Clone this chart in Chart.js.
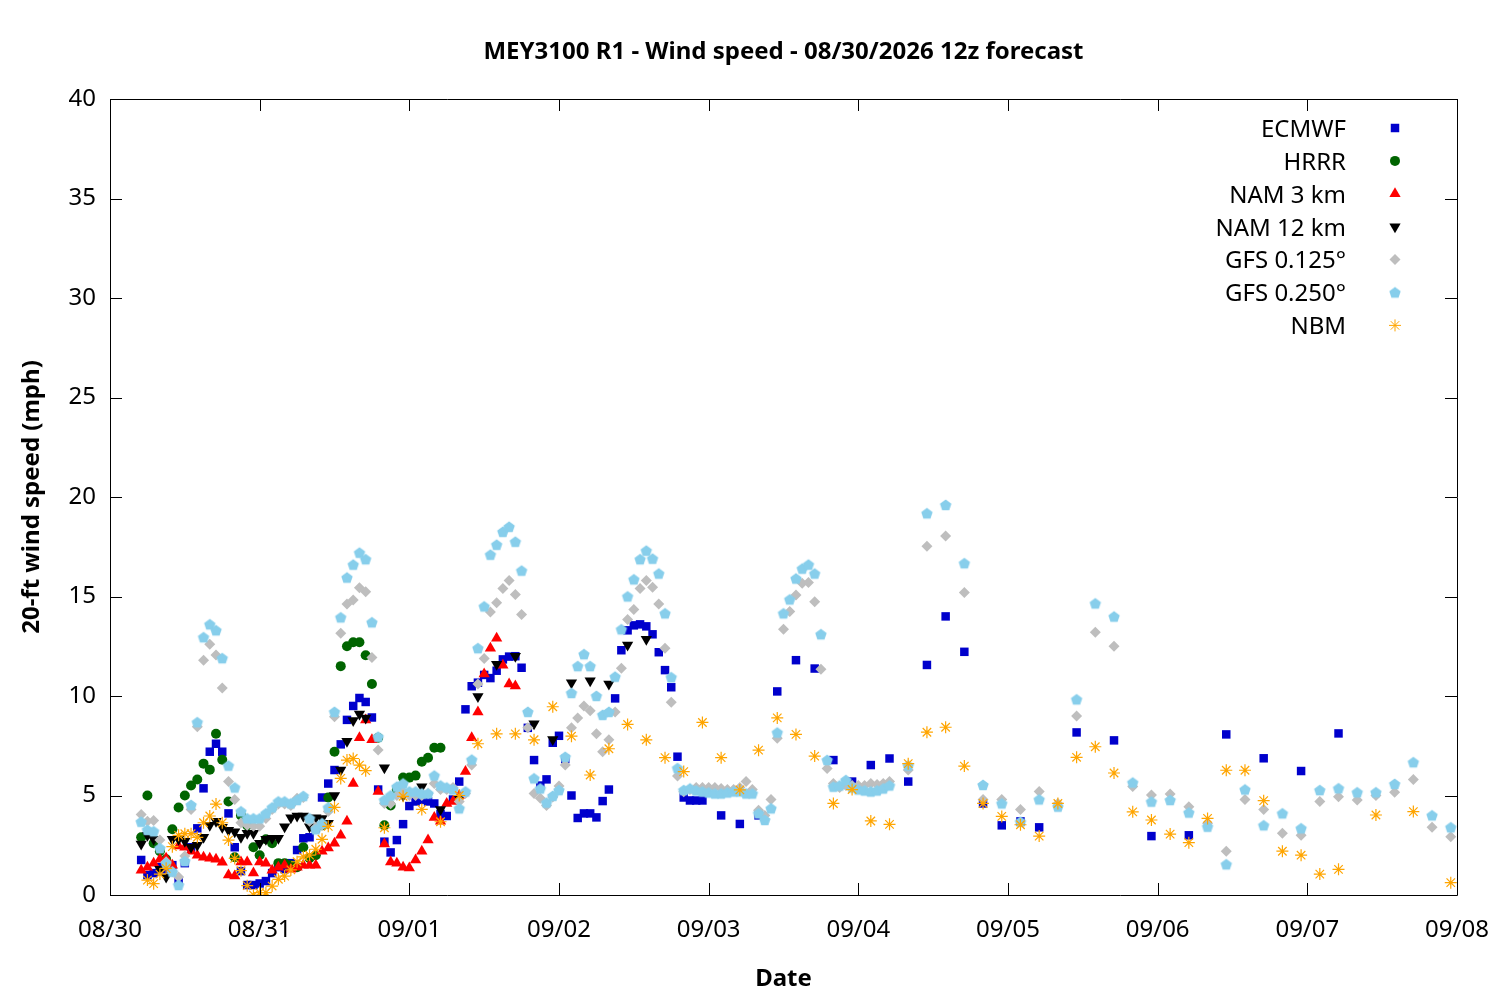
<!DOCTYPE html>
<html>
<head>
<meta charset="utf-8">
<title>MEY3100 R1 - Wind speed</title>
<script src="https://cdn.jsdelivr.net/npm/chart.js@4.4.1/dist/chart.umd.min.js"></script>
<style>
    html, body { margin: 0; padding: 0; background: #fff; }
    #wrap { width: 1500px; height: 1000px; }
</style>
</head>
<body>
<div id="wrap"><canvas id="windChart" width="1500" height="1000"></canvas></div>
<script>
// x values are hours after 08/30 00:00, one tick per day
const dateLabels = ['08/30', '08/31', '09/01', '09/02', '09/03', '09/04', '09/05', '09/06', '09/07', '09/08'];
const yTicks = [0, 5, 10, 15, 20, 25, 30, 35, 40];

function hours(start, end, step) {
    const out = [];
    for (let h = start; h <= end; h += step) out.push(h);
    return out;
}

// ECMWF: hourly, then 3-hourly, then 6-hourly
const ecmwfHours = [...hours(5, 95, 1), ...hours(98, 149, 3), ...hours(155, 197, 6)];
const ecmwfSpeed = [
    1.76, 1.0, 1.1, 1.4, 1.3, 1.5, 0.67, 1.6, 2.4, 3.35,
    5.36, 7.2, 7.6, 7.2, 4.1, 2.4, 1.2, 0.5, 0.5, 0.58,
    0.7, 1.1, 1.4, 1.3, 1.6, 2.26, 2.85, 2.9, 3.35, 4.9,
    5.6, 6.28, 7.57, 8.8, 9.5, 9.9, 9.7, 8.92, 5.3, 2.68,
    2.14, 2.76, 3.56, 4.47, 4.7, 4.78, 4.7, 4.6, 4.07, 3.97,
    4.8, 5.7, 9.33, 10.49, 10.67, 11.06, 10.9, 11.27, 11.84, 11.98,
    12.0, 11.42, 8.4, 6.78, 5.5, 5.81, 7.65, 8.0, 6.83, 5.0,
    3.87, 4.1, 4.1, 3.9, 4.72, 5.3, 9.88, 12.3, 13.3, 13.55,
    13.6, 13.5, 13.1, 12.2, 11.3, 10.44, 6.95, 4.9, 4.75, 4.75,
    4.75,
    4.0, 3.57, 4.0, 10.23, 11.8, 11.38, 6.78, 5.7, 6.53, 6.86,
    5.7, 11.56, 14.0, 12.22, 4.6, 3.5, 3.7, 3.4,
    8.17, 7.77, 2.96, 3.0, 8.07, 6.87, 6.23, 8.12
];

const hrrrHours = hours(5, 53, 1);
const hrrrSpeed = [
    2.9, 5.0, 2.6, 2.2, 1.8, 3.3, 4.4, 5.0, 5.5, 5.8,
    6.6, 6.3, 8.1, 6.8, 4.7, 1.9, 4.0, 3.5, 2.4, 2.0,
    2.8, 2.6, 1.6, 1.6, 1.5, 1.4, 2.4, 1.85, 2.0, 3.5,
    4.9, 7.2, 11.5, 12.5, 12.7, 12.7, 12.05, 10.6, 7.9, 3.5,
    4.5, 5.3, 5.9, 5.9, 6.0, 6.7, 6.9, 7.4, 7.4
];

const nam3Hours = hours(5, 65, 1);
const nam3Speed = [
    1.25, 1.4, 1.6, 1.8, 1.85, 1.5, 2.46, 2.4, 2.2, 2.0,
    1.9, 1.85, 1.8, 1.65, 1.0, 0.95, 1.66, 1.66, 1.1, 1.66,
    1.6, 1.25, 1.4, 1.5, 1.3, 1.4, 1.5, 1.5, 1.5, 2.2,
    2.36, 2.6, 3.0, 3.7, 5.6, 7.9, 8.8, 7.8, 5.2, 2.56,
    1.66, 1.6, 1.4, 1.36, 1.76, 2.2, 2.76, 3.9, 3.7, 4.6,
    4.7, 5.0, 6.2, 7.9, 9.2, 11.1, 12.4, 12.9, 11.55, 10.6,
    10.5
];

const nam12Hours = [...hours(5, 41, 1), ...hours(44, 86, 3)];
const nam12Speed = [
    2.56, 3.0, 2.8, 1.3, 0.9, 2.8, 2.8, 2.7, 2.4, 2.5,
    2.9, 3.5, 3.7, 3.4, 3.26, 3.18, 2.9, 3.1, 3.1, 2.6,
    2.8, 2.85, 2.85, 3.43, 3.88, 3.97, 3.97, 3.43, 3.88, 3.85,
    3.6, 5.0, 6.28, 7.73, 8.77, 9.1, 8.9,
    6.4, 5.0, 5.44, 4.3, 4.86, 9.97, 11.6, 12.0, 8.6, 7.82,
    10.67, 10.77, 10.6, 12.56, 12.85
];

// both GFS grids: hourly to hour 125, then 3-hourly
const gfsHours = [...hours(5, 125, 1), ...hours(128, 215, 3)];
const gfs125Speed = [
    4.05, 3.7, 3.74, 2.76, 1.67, 1.17, 0.9, 1.96, 4.3, 8.46,
    11.8, 12.6, 12.06, 10.4, 5.7, 4.8, 3.63, 3.5, 3.46, 3.46,
    3.85, 4.3, 4.57, 4.57, 4.5, 4.86, 4.9, 3.7, 3.4, 3.5,
    4.2, 8.96, 13.15, 14.62, 14.83, 15.44, 15.24, 11.94, 7.29, 4.6,
    4.58, 5.0, 5.2, 5.0, 5.0, 5.0, 5.1, 5.6, 5.3, 5.3,
    5.4, 4.7, 5.1, 6.53, 10.6, 11.88, 14.22, 14.68, 15.4, 15.8,
    15.1, 14.1, 8.4, 5.1, 4.86, 4.5, 4.93, 5.48, 6.53, 8.4,
    8.9, 9.5, 9.26, 8.1, 7.2, 7.8, 9.2, 11.4, 13.85, 14.35,
    15.4, 15.8, 15.46, 14.62, 12.4, 9.68, 5.98, 5.19, 5.3, 5.4,
    5.4, 5.4, 5.4, 5.35, 5.3, 5.3, 5.4, 5.7, 5.3, 4.26,
    4.0, 4.8, 7.88, 13.35, 14.24, 15.07, 15.66, 15.7, 14.74, 11.34,
    6.36, 5.6, 5.4, 5.5, 5.5, 5.5, 5.5, 5.6, 5.55, 5.6,
    5.7,
    6.28, 17.53, 18.04, 15.2, 4.8, 4.8, 4.3, 5.2, 4.6, 9.0,
    13.2, 12.5, 5.45, 5.03, 5.08, 4.44, 3.6, 2.2, 4.8, 4.3,
    3.1, 3.0, 4.7, 4.94, 4.77, 5.0, 5.16, 5.8, 3.4, 2.93
];
const gfs250Speed = [
    3.68, 3.27, 3.2, 2.35, 1.59, 1.17, 0.5, 1.7, 4.52, 8.68,
    12.95, 13.6, 13.3, 11.9, 6.5, 5.4, 4.2, 3.85, 3.85, 3.85,
    4.1, 4.4, 4.7, 4.7, 4.6, 4.77, 4.97, 3.85, 3.3, 3.6,
    4.4, 9.2, 13.95, 15.95, 16.6, 17.2, 16.87, 13.7, 7.95, 4.77,
    5.0, 5.44, 5.6, 5.2, 5.2, 5.1, 5.1, 6.0, 5.5, 5.4,
    5.3, 4.35, 5.2, 6.8, 12.4, 14.5, 17.1, 17.6, 18.25, 18.5,
    17.75, 16.3, 9.2, 5.86, 5.35, 4.64, 4.98, 5.27, 6.94, 10.15,
    11.5, 12.1, 11.5, 10.0, 9.05, 9.2, 10.97, 13.35, 15.0, 15.86,
    16.87, 17.3, 16.9, 16.15, 14.15, 10.94, 6.37, 5.27, 5.35, 5.25,
    5.2, 5.15, 5.1, 5.1, 5.15, 5.2, 5.2, 5.1, 5.1, 4.1,
    3.77, 4.35, 8.16, 14.15, 14.85, 15.9, 16.4, 16.6, 16.15, 13.1,
    6.78, 5.44, 5.5, 5.77, 5.4, 5.3, 5.25, 5.2, 5.25, 5.35,
    5.5,
    6.5, 19.18, 19.6, 16.67, 5.53, 4.6, 3.68, 4.8, 4.44, 9.83,
    14.65, 13.99, 5.65, 4.69, 4.77, 4.14, 3.43, 1.54, 5.3, 3.5,
    4.1, 3.35, 5.27, 5.36, 5.16, 5.16, 5.58, 6.67, 4.0, 3.4
];

const nbmHours = [...hours(6, 41, 1), ...hours(44, 197, 3), 203, 209, 215];
const nbmSpeed = [
    0.75, 0.57, 1.05, 1.34, 2.43, 3.0, 3.08, 3.08, 2.9, 3.63,
    3.97, 4.57, 3.63, 2.76, 1.84, 1.22, 0.47, 0.0, 0.12, 0.12,
    0.45, 0.79, 0.95, 1.26, 1.67, 1.92, 2.0, 2.3, 2.8, 3.45,
    4.4, 5.86, 6.78, 6.86, 6.53, 6.25,
    3.38, 4.96, 4.3, 3.68, 5.0, 7.6, 8.1, 8.1, 7.8, 9.46,
    7.98, 6.03, 7.35, 8.57, 7.8, 6.9, 6.2, 8.67, 6.9, 5.28,
    7.28, 8.9, 8.07, 6.98, 4.6, 5.3, 3.72, 3.55, 6.6, 8.18,
    8.43, 6.48, 4.6, 3.95, 3.53, 2.96, 4.6, 6.92, 7.45, 6.13,
    4.18, 3.77, 3.06, 2.63, 3.85, 6.27, 6.27, 4.74, 2.2, 2.0,
    1.05, 1.29,
    4.02, 4.19, 0.62
];

function points(xs, ys, name) {
    if (xs.length !== ys.length) console.warn(name + ': ' + xs.length + ' hours, ' + ys.length + ' values');
    return xs.map((h, i) => ({ x: h, y: ys[i] }));
}

function makePentagon(color, r) {
    const c = document.createElement('canvas');
    const size = Math.ceil(r * 2 + 2);
    c.width = size;
    c.height = size;
    const g = c.getContext('2d');
    g.fillStyle = color;
    g.beginPath();
    for (let i = 0; i < 5; i++) {
        const a = -Math.PI / 2 + i * 2 * Math.PI / 5;
        const px = size / 2 + r * Math.cos(a);
        const py = size / 2 + r * Math.sin(a) + 0.5;
        if (i === 0) g.moveTo(px, py); else g.lineTo(px, py);
    }
    g.closePath();
    g.fill();
    return c;
}

const FONT = "'Noto Sans', 'Open Sans', sans-serif";
const pentagon = makePentagon('#87ceeb', 6);

const series = [
    { label: 'ECMWF', data: points(ecmwfHours, ecmwfSpeed, 'ECMWF'), color: '#0000cc', pointStyle: 'rect', radius: 6 },
    { label: 'HRRR', data: points(hrrrHours, hrrrSpeed, 'HRRR'), color: '#006400', pointStyle: 'circle', radius: 5 },
    { label: 'NAM 3 km', data: points(nam3Hours, nam3Speed, 'NAM3'), color: '#ff0000', pointStyle: 'triangle', radius: 6.5 },
    { label: 'NAM 12 km', data: points(nam12Hours, nam12Speed, 'NAM12'), color: '#000000', pointStyle: 'triangle', radius: 6.5, rotation: 180 },
    { label: 'GFS 0.125°', data: points(gfsHours, gfs125Speed, 'GFS125'), color: '#bebebe', pointStyle: 'rectRot', radius: 5.5 },
    { label: 'GFS 0.250°', data: points(gfsHours, gfs250Speed, 'GFS250'), color: '#87ceeb', pointStyle: pentagon, radius: 6 },
    { label: 'NBM', data: points(nbmHours, nbmSpeed, 'NBM'), color: '#ffa500', pointStyle: 'star', radius: 6, stroke: true }
];

const datasets = series.map((s, i) => ({
    label: s.label,
    data: s.data,
    order: series.length - i,
    pointStyle: s.pointStyle,
    pointRadius: s.radius,
    pointRotation: s.rotation || 0,
    backgroundColor: s.color,
    borderColor: s.color,
    pointBorderWidth: s.stroke ? 1.2 : 0,
    showLine: false
}));

// title, axis titles, gnuplot-style frame with inward ticks, legend
const framePlugin = {
    id: 'frame',
    afterDraw(chart) {
        const { ctx, chartArea: a, scales } = chart;
        ctx.save();
        ctx.fillStyle = '#000';
        ctx.strokeStyle = '#000';
        ctx.lineWidth = 1;

        ctx.textAlign = 'center';
        ctx.textBaseline = 'middle';
        ctx.font = 'bold 24px ' + FONT;
        ctx.fillText('MEY3100 R1 - Wind speed - 08/30/2026 12z forecast', (a.left + a.right) / 2, 52);
        ctx.fillText('Date', (a.left + a.right) / 2, 979);
        ctx.save();
        ctx.translate(32, (a.top + a.bottom) / 2);
        ctx.rotate(-Math.PI / 2);
        ctx.fillText('20-ft wind speed (mph)', 0, 0);
        ctx.restore();

        ctx.beginPath();
        ctx.rect(Math.round(a.left) + 0.5, Math.round(a.top) + 0.5,
                 Math.round(a.right - a.left), Math.round(a.bottom - a.top));
        const tick = 12;
        dateLabels.forEach((d, i) => {
            const x = Math.round(scales.x.getPixelForValue(i * 24)) + 0.5;
            ctx.moveTo(x, a.bottom); ctx.lineTo(x, a.bottom - tick);
            ctx.moveTo(x, a.top); ctx.lineTo(x, a.top + tick);
        });
        yTicks.forEach(v => {
            const y = Math.round(scales.y.getPixelForValue(v)) + 0.5;
            ctx.moveTo(a.left, y); ctx.lineTo(a.left + tick, y);
            ctx.moveTo(a.right, y); ctx.lineTo(a.right - tick, y);
        });
        ctx.stroke();

        ctx.font = '24px ' + FONT;
        ctx.textAlign = 'right';
        series.forEach((s, i) => {
            const y = 128 + i * 32.9;
            ctx.fillStyle = '#000';
            ctx.fillText(s.label, 1346, y + 2);
            ctx.fillStyle = s.color;
            ctx.strokeStyle = s.color;
            if (Chart.helpers && Chart.helpers.drawPoint) {
                Chart.helpers.drawPoint(ctx, {
                    pointStyle: s.pointStyle,
                    radius: s.radius,
                    rotation: s.rotation || 0,
                    borderWidth: s.stroke ? 1.2 : 0
                }, 1395, y);
            }
        });
        ctx.restore();
    }
};

new Chart(document.getElementById('windChart'), {
    type: 'scatter',
    data: { datasets: datasets },
    options: {
        responsive: false,
        animation: false,
        devicePixelRatio: 1,
        layout: { padding: { left: 0, right: 43, top: 99, bottom: 0 } },
        plugins: {
            legend: { display: false },
            title: { display: false },
            tooltip: { enabled: false }
        },
        scales: {
            x: {
                type: 'linear',
                min: 0,
                max: 216,
                grid: { display: false, drawTicks: false },
                border: { display: false },
                afterFit(scale) {
                    scale.height = 105;
                    scale.paddingLeft = 0;
                    scale.paddingRight = 0;
                },
                afterBuildTicks(scale) { scale.ticks = dateLabels.map((d, i) => ({ value: i * 24 })); },
                ticks: {
                    padding: 21,
                    color: '#000',
                    maxRotation: 0,
                    autoSkip: false,
                    font: { family: FONT, size: 24 },
                    callback: v => dateLabels[Math.round(v / 24)]
                }
            },
            y: {
                min: 0,
                max: 40,
                grid: { display: false, drawTicks: false },
                border: { display: false },
                afterFit(scale) { scale.width = 110; },
                afterBuildTicks(scale) { scale.ticks = yTicks.map(v => ({ value: v })); },
                ticks: {
                    padding: 14,
                    color: '#000',
                    font: { family: FONT, size: 24 }
                }
            }
        }
    },
    plugins: [framePlugin]
});
</script>
</body>
</html>
